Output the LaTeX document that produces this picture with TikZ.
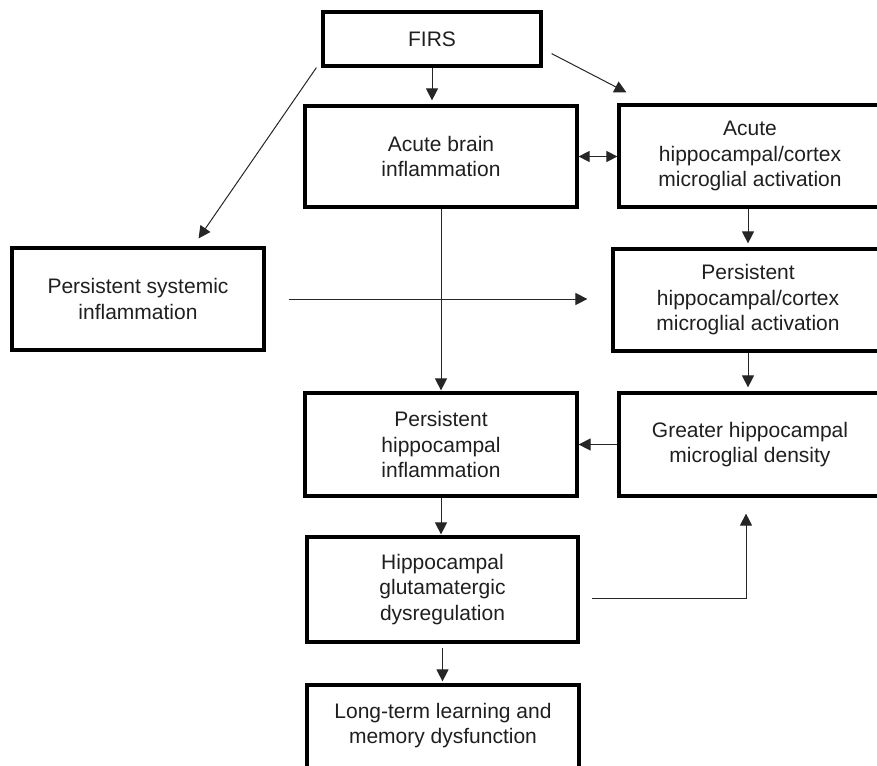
\documentclass[tikz,border=0pt]{standalone}
\usepackage{fontspec}
\setmainfont{Liberation Sans}
\usetikzlibrary{arrows.meta,calc}
\begin{document}
\begin{tikzpicture}[x=1pt,y=-1pt,
  box/.style={draw=black, line width=3.2pt, rectangle, align=center, inner sep=0pt,
    font=\fontsize{21}{25.5}\selectfont, text=black!88},
  conn/.style={line width=1pt, draw=black!85, -{Triangle[length=12pt,width=12pt]}},
  dconn/.style={line width=1pt, draw=black!85, {Triangle[length=11pt,width=11pt]}-{Triangle[length=11pt,width=11pt]}},
  ]
\useasboundingbox (0,0) rectangle (877,765);
\clip (0,0) rectangle (877,765);

\node[box, minimum width=218pt, minimum height=54pt] (firs) at (432,39) {FIRS};
\node[box, minimum width=272pt, minimum height=101pt] (abi) at (441,156.5) {Acute brain\\inflammation};
\node[box, minimum width=262pt, minimum height=102pt] (ahc) at (750,156) {Acute\\hippocampal/cortex\\microglial activation};
\node[box, minimum width=252pt, minimum height=102pt] (psi) at (138,299) {Persistent systemic\\inflammation};
\node[box, minimum width=270pt, minimum height=102pt] (phc) at (748,300) {Persistent\\hippocampal/cortex\\microglial activation};
\node[box, minimum width=272pt, minimum height=103pt] (phi) at (441,444.5) {Persistent\\hippocampal\\inflammation};
\node[box, minimum width=262pt, minimum height=103pt] (ghd) at (750,444.5) {Greater hippocampal\\microglial density};
\node[box, minimum width=271pt, minimum height=105pt] (hgd) at (442.5,589.5) {Hippocampal\\glutamatergic\\dysregulation};
\node[box, minimum width=272pt, minimum height=104pt, text depth=27pt] (ltl) at (443,737) {Long-term learning and\\memory dysfunction};

\coordinate (frs) at ($(firs.south east)+(9,-14)$);
\coordinate (fre) at ($(ahc.north west)+(9,-11)$);
\coordinate (fls) at ($(firs.south west)+(-5,0)$);
\coordinate (fle) at ($(psi.north east)+(-67,-8)$);
\coordinate (gs) at ($(hgd.east)+(12,8.5)$);
\coordinate (ge) at ($(ghd.south)+(-4,0)$);

\draw[conn, shorten >=4pt] (firs.south) -- (firs.south |- abi.north);
\draw[conn] (frs) -- (fre);
\draw[conn] (fls) -- (fle);
\draw[dconn] (abi.east) -- (abi.east -| ahc.west);
\draw[conn, shorten >=4pt] ($(ahc.south)+(-2,0)$) -- ($(ahc.south |- phc.north)+(-2,0)$);
\draw[conn, shorten <=23pt, shorten >=24pt] (psi.east) -- (psi.east -| phc.west);
\draw[conn, shorten >=1pt] (abi.south) -- (abi.south |- phi.north);
\draw[conn, shorten >=4pt] (phc.south) -- (phc.south |- ghd.north);
\draw[conn] (ghd.west) -- (ghd.west -| phi.east);
\draw[conn, shorten >=1pt] (phi.south) -- (phi.south |- hgd.north);
\draw[conn, shorten >=16pt] (gs) -| (ge);
\draw[conn, shorten <=4pt, shorten >=2pt] (hgd.south) -- (hgd.south |- ltl.north);
\end{tikzpicture}
\end{document}
